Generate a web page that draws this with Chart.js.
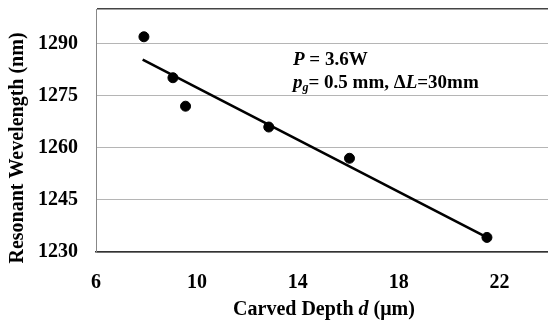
<!DOCTYPE html>
<html>
<head>
<meta charset="utf-8">
<script src="https://cdn.jsdelivr.net/npm/chart.js@4.4.0/dist/chart.umd.min.js"></script>
<style>
  html, body { margin: 0; background: #fff; overflow: hidden; }
</style>
</head>
<body>
<canvas id="graphe" width="556" height="323"></canvas>
<script>
// données
const depth = [7.9, 9.05, 9.55, 12.85, 16.05, 21.5];
const wavelength = [1292, 1280.2, 1272, 1266, 1257, 1234.2];
// droite de tendance (extrémités)
const trendX = [7.85, 21.5];
const trendY = [1285.4, 1234.2];
const yTicks = [1230, 1245, 1260, 1275, 1290];
const xTicks = [6, 10, 14, 18, 22];

const serif = '"Liberation Serif", "Times New Roman", serif';

// dessine une suite de morceaux de texte avec des polices différentes
function drawRich(ctx, parts, x, y, align) {
    let total = 0;
    parts.forEach(p => {
        ctx.font = p.font;
        total += ctx.measureText(p.text).width;
    });
    let cx = align === 'center' ? x - total / 2 : x;
    parts.forEach(p => {
        ctx.font = p.font;
        ctx.fillText(p.text, cx, y + (p.dy || 0));
        cx += ctx.measureText(p.text).width;
    });
}

const textPlugin = {
    id: 'textes',
    afterDraw(chart) {
        const ctx = chart.ctx;
        ctx.save();
        ctx.fillStyle = '#000';
        ctx.textBaseline = 'middle';
        ctx.textAlign = 'left';

        const b = 'bold 19px ' + serif;
        const bi = 'italic bold 19px ' + serif;
        drawRich(ctx, [
            {text: 'P', font: bi},
            {text: ' = 3.6W', font: b}
        ], 293, 60, 'left');
        drawRich(ctx, [
            {text: 'p', font: bi},
            {text: 'g', font: 'italic bold 12px ' + serif, dy: 5},
            {text: '= 0.5 mm, ', font: b},
            {text: 'Δ', font: b},
            {text: 'L', font: bi},
            {text: '=30mm', font: b}
        ], 293, 83, 'left');

        // titre axe x
        drawRich(ctx, [
            {text: 'Carved Depth ', font: 'bold 20px ' + serif},
            {text: 'd', font: 'italic bold 20px ' + serif},
            {text: ' (μm)', font: 'bold 20px ' + serif}
        ], 324, 310, 'center');

        // titre axe y
        ctx.translate(18, 148);
        ctx.rotate(-Math.PI / 2);
        drawRich(ctx, [
            {text: 'Resonant Wevelength (nm)', font: 'bold 20px ' + serif}
        ], 0, 0, 'center');
        ctx.restore();
    }
};

const ctx = document.getElementById('graphe').getContext('2d');
new Chart(ctx, {
    type: 'scatter',
    data: {
        datasets: [{
            data: depth.map((d, i) => ({x: d, y: wavelength[i]})),
            backgroundColor: '#000',
            borderColor: '#000',
            pointRadius: 5,
            pointHoverRadius: 5
        }, {
            data: trendX.map((d, i) => ({x: d, y: trendY[i]})),
            showLine: true,
            borderColor: '#000',
            borderWidth: 2.6,
            pointRadius: 0
        }]
    },
    options: {
        responsive: false,
        animation: false,
        layout: { padding: {top: 9, left: 0, right: 0, bottom: 0} },
        plugins: { legend: {display: false}, tooltip: {enabled: false} },
        scales: {
            x: {
                min: 6,
                max: 24,
                afterFit(scale) {
                    scale.height = 71;
                    scale.paddingLeft = 0;
                    scale.paddingRight = 0;
                },
                afterBuildTicks(scale) {
                    scale.ticks = xTicks.map(v => ({value: v}));
                },
                grid: { display: false, drawTicks: false },
                border: { color: '#333', width: 1.5 },
                ticks: {
                    padding: 19,
                    color: '#000',
                    font: {family: serif, size: 20, weight: 'bold'}
                }
            },
            y: {
                min: 1230,
                max: 1300,
                afterFit(scale) {
                    scale.width = 96;
                    scale.paddingTop = 0;
                    scale.paddingBottom = 0;
                },
                afterBuildTicks(scale) {
                    scale.ticks = yTicks.concat([1300]).map(v => ({value: v}));
                },
                grid: {
                    drawTicks: false,
                    color: c => c.tick && c.tick.value === 1300 ? '#444' : '#b5b5b5',
                    lineWidth: c => c.tick && c.tick.value === 1300 ? 1.5 : 1
                },
                border: { color: '#888', width: 1 },
                ticks: {
                    padding: 18,
                    color: '#000',
                    font: {family: serif, size: 20, weight: 'bold'},
                    callback: v => v === 1300 ? '' : v
                }
            }
        }
    },
    plugins: [textPlugin]
});
</script>
</body>
</html>
